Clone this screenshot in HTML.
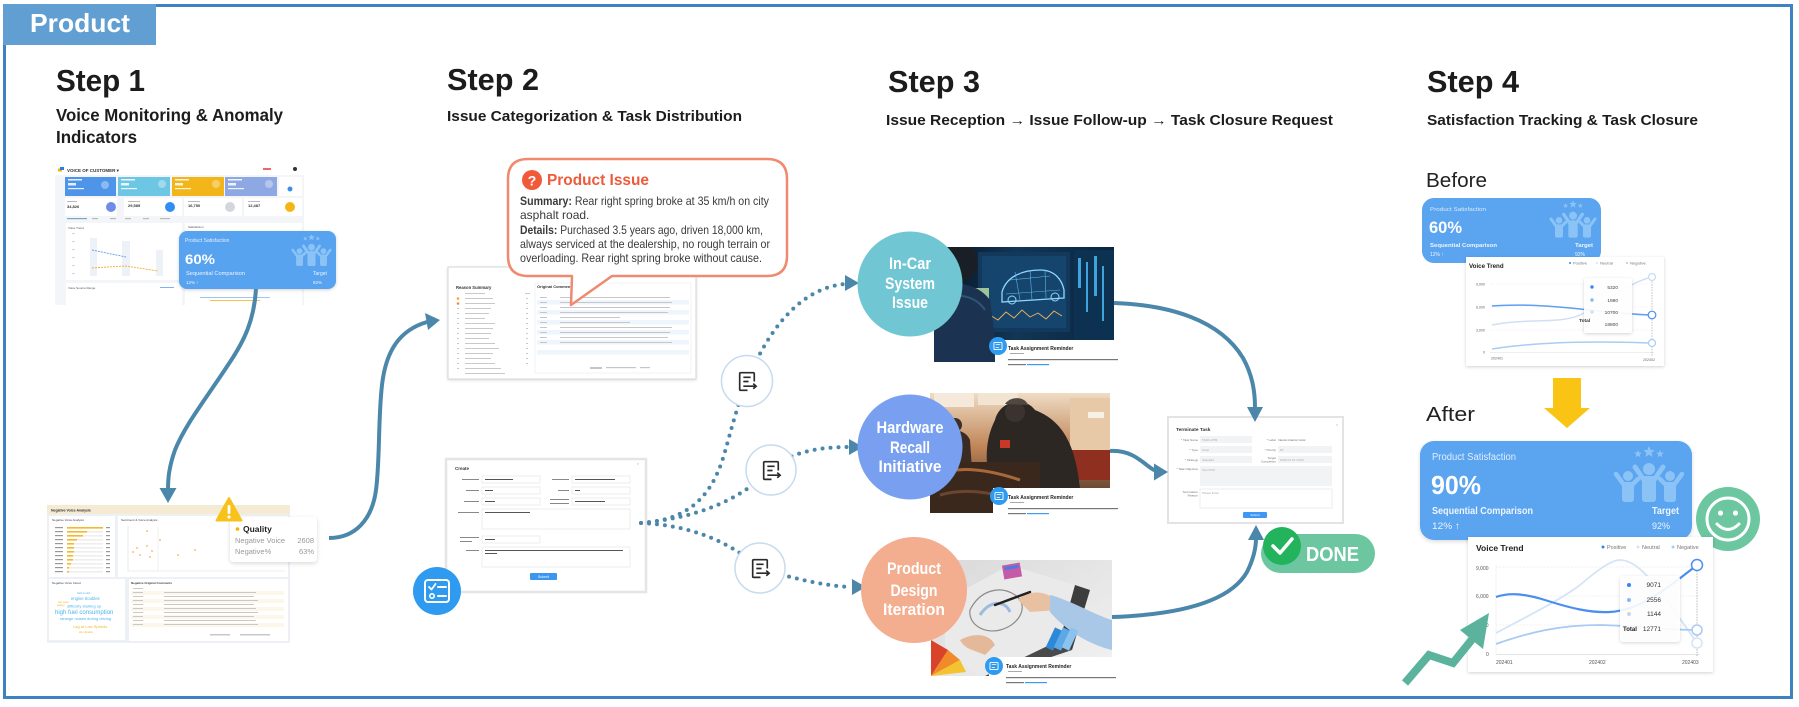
<!DOCTYPE html>
<html><head><meta charset="utf-8"><title>Product</title>
<style>
html,body{margin:0;padding:0;background:#fff}
body{width:1799px;height:707px;overflow:hidden}
svg{display:block}
text{font-family:"Liberation Sans",Arial,sans-serif}
</style></head><body>
<svg width="1799" height="707" viewBox="0 0 1799 707" xmlns="http://www.w3.org/2000/svg">
<defs>
<filter id="sh" x="-20%" y="-20%" width="140%" height="150%"><feDropShadow dx="0" dy="1" stdDeviation="1.6" flood-color="#000" flood-opacity="0.18"/></filter>
<filter id="sh2" x="-20%" y="-20%" width="140%" height="150%"><feDropShadow dx="0" dy="1.5" stdDeviation="2" flood-color="#000" flood-opacity="0.15"/></filter>
<linearGradient id="gcar" x1="0" y1="0" x2="1" y2="0"><stop offset="0" stop-color="#07121f"/><stop offset="0.45" stop-color="#123656"/><stop offset="1" stop-color="#0b2640"/></linearGradient>
<linearGradient id="ghw" x1="0" y1="0" x2="0" y2="1"><stop offset="0" stop-color="#efdcc4"/><stop offset="0.45" stop-color="#c08558"/><stop offset="1" stop-color="#3b281c"/></linearGradient>
<linearGradient id="gds" x1="0" y1="0" x2="1" y2="1"><stop offset="0" stop-color="#d9d9d9"/><stop offset="1" stop-color="#f2f2f2"/></linearGradient>
<path id="star" d="M0,-1 L0.2645,-0.364 L0.951,-0.309 L0.428,0.139 L0.588,0.809 L0,0.45 L-0.588,0.809 L-0.428,0.139 L-0.951,-0.309 L-0.2645,-0.364Z"/>
<symbol id="people" viewBox="0 0 72 56">
 <g fill="currentColor" stroke="currentColor">
 <use href="#star" transform="translate(25,8) scale(4)" stroke="none"/>
 <use href="#star" transform="translate(36,6) scale(6)" stroke="none"/>
 <use href="#star" transform="translate(47,8) scale(4)" stroke="none"/>
 <circle cx="36" cy="23" r="6" stroke="none"/>
 <rect x="29" y="30" width="14" height="26" rx="3" stroke="none"/>
 <path d="M31,34 L22,21 M41,34 L50,21" stroke-width="5" stroke-linecap="round" fill="none"/>
 <circle cx="15" cy="30" r="5" stroke="none"/>
 <rect x="9" y="36" width="12" height="20" rx="3" stroke="none"/>
 <path d="M11,39 L3,28 M19,39 L25,33" stroke-width="4.5" stroke-linecap="round" fill="none"/>
 <circle cx="57" cy="30" r="5" stroke="none"/>
 <rect x="51" y="36" width="12" height="20" rx="3" stroke="none"/>
 <path d="M61,39 L69,28 M53,39 L47,33" stroke-width="4.5" stroke-linecap="round" fill="none"/>
 </g>
</symbol>
<symbol id="doc" viewBox="0 0 24 24">
 <path d="M12,20.5 H5.5 Q4.5,20.5 4.5,19.5 V4.5 Q4.5,3.5 5.5,3.5 H17.5 Q18.5,3.5 18.5,4.5 V12" fill="none" stroke="#2a2a2a" stroke-width="1.6" stroke-linejoin="round"/>
 <path d="M8,8 H15 M8,12 H13 M8,16.5 H20" fill="none" stroke="#2a2a2a" stroke-width="1.6"/>
 <path d="M17.5,14 L20.3,16.5 L17.5,19" fill="none" stroke="#2a2a2a" stroke-width="1.6"/>
</symbol>
<symbol id="bicon" viewBox="0 0 20 20">
 <circle cx="10" cy="10" r="10" fill="#2f9bf0"/>
 <rect x="5.5" y="6" width="9" height="8" rx="1" fill="none" stroke="#fff" stroke-width="1"/>
 <path d="M7.5,8.5 H12.5 M7.5,11.5 H11" stroke="#fff" stroke-width="0.9"/>
</symbol>
<clipPath id="cpcar"><path d="M934,247 H1114 V340 H995 V362 H934 Z"/></clipPath>
<clipPath id="cphw"><path d="M930,393 H1110 V488 H993 V513 H930 Z"/></clipPath>
<clipPath id="cpds"><path d="M931,560 H1112 V657 H989 V676 H931 Z"/></clipPath>
</defs>

<!-- frame -->
<rect x="4.5" y="5.5" width="1787" height="692" fill="#fff" stroke="#3f82c2" stroke-width="3"/>
<rect x="3" y="4" width="153" height="41" fill="#619fd3"/>
<text x="30" y="32" font-size="26" font-weight="bold" fill="#fff" textLength="100" lengthAdjust="spacingAndGlyphs">Product</text>

<!-- headings -->
<g fill="#1c1c1c" font-weight="bold">
<text x="56" y="91" font-size="31" textLength="89" lengthAdjust="spacingAndGlyphs">Step 1</text>
<text x="56" y="121" font-size="17.5" textLength="227" lengthAdjust="spacingAndGlyphs">Voice Monitoring &amp; Anomaly</text>
<text x="56" y="143" font-size="17.5" textLength="81" lengthAdjust="spacingAndGlyphs">Indicators</text>
<text x="447" y="90" font-size="31" textLength="92" lengthAdjust="spacingAndGlyphs">Step 2</text>
<text x="447" y="121" font-size="14.5" textLength="295" lengthAdjust="spacingAndGlyphs">Issue Categorization &amp; Task Distribution</text>
<text x="888" y="92" font-size="31" textLength="92" lengthAdjust="spacingAndGlyphs">Step 3</text>
<text x="886" y="125" font-size="14.5" textLength="447" lengthAdjust="spacingAndGlyphs">Issue Reception → Issue Follow-up → Task Closure Request</text>
<text x="1427" y="92" font-size="31" textLength="92" lengthAdjust="spacingAndGlyphs">Step 4</text>
<text x="1427" y="125" font-size="14.5" textLength="271" lengthAdjust="spacingAndGlyphs">Satisfaction Tracking &amp; Task Closure</text>
</g>

<!-- ===== STEP 1 dashboard ===== -->
<g>
<rect x="55" y="166" width="249" height="139" fill="#f3f5f9"/>
<rect x="55" y="166" width="249" height="9" fill="#fff"/>
<rect x="58" y="168.5" width="4" height="3" fill="#f5b400"/><rect x="60" y="167" width="4" height="3" fill="#2f7de1"/>
<text x="67" y="172" font-size="4.5" font-weight="bold" fill="#333">VOICE OF CUSTOMER ▾</text>
<rect x="263" y="168" width="8" height="2" fill="#e66"/><circle cx="295" cy="169" r="2" fill="#333"/>
<rect x="65" y="177" width="51" height="19" fill="#4e95ea"/>
<rect x="118" y="177" width="52" height="19" fill="#6cc6e4"/>
<rect x="172" y="177" width="52" height="19" fill="#f2b61b"/>
<rect x="225" y="177" width="52" height="19" fill="#8ea8e3"/>
<rect x="279" y="177" width="23" height="19" fill="#fff"/>
<g fill="#fff" opacity="0.85">
<rect x="68" y="179" width="14" height="1.5"/><rect x="68" y="183" width="8" height="2.5"/><rect x="68" y="188" width="16" height="1.2"/>
<rect x="121" y="179" width="14" height="1.5"/><rect x="121" y="183" width="8" height="2.5"/><rect x="121" y="188" width="16" height="1.2"/>
<rect x="175" y="179" width="14" height="1.5"/><rect x="175" y="183" width="8" height="2.5"/><rect x="175" y="188" width="16" height="1.2"/>
<rect x="228" y="179" width="14" height="1.5"/><rect x="228" y="183" width="8" height="2.5"/><rect x="228" y="188" width="16" height="1.2"/>
</g>
<circle cx="105" cy="185" r="4" fill="#fff" opacity="0.35"/><circle cx="162" cy="184" r="4" fill="#fff" opacity="0.35"/><circle cx="216" cy="184" r="4" fill="#fff" opacity="0.35"/><circle cx="269" cy="184" r="4" fill="#fff" opacity="0.35"/>
<circle cx="290" cy="189" r="2.5" fill="#3d8ee8"/>
<rect x="65" y="198" width="52" height="18" fill="#fff"/><rect x="124" y="198" width="58" height="18" fill="#fff"/><rect x="184" y="198" width="58" height="18" fill="#fff"/><rect x="244" y="198" width="58" height="18" fill="#fff"/>
<circle cx="111" cy="207" r="5" fill="#6f8de6"/><circle cx="170" cy="207" r="5" fill="#2e8ff0"/><circle cx="230" cy="207" r="5" fill="#d3d6db"/><circle cx="290" cy="207" r="5" fill="#f5b615"/>
<g font-size="4" font-weight="bold" fill="#333"><text x="67" y="208">34,826</text><text x="128" y="207">29,589</text><text x="188" y="207">16,750</text><text x="248" y="207">12,487</text></g>
<g fill="#bbb"><rect x="67" y="201" width="10" height="1"/><rect x="128" y="201" width="12" height="1"/><rect x="188" y="201" width="12" height="1"/><rect x="248" y="201" width="12" height="1"/>
<rect x="67" y="218" width="20" height="1.2" fill="#7ab"/><rect x="92" y="218" width="6" height="1.2"/><rect x="110" y="218" width="6" height="1.2"/><rect x="125" y="218" width="6" height="1.2"/><rect x="143" y="218" width="6" height="1.2"/><rect x="160" y="218" width="10" height="1.2"/></g>
<rect x="66" y="223" width="116" height="57" fill="#fff"/>
<rect x="185" y="223" width="117" height="57" fill="#fff"/>
<text x="68" y="229" font-size="3" fill="#555">Voice Trend</text>
<rect x="90" y="238" width="7" height="38" fill="#edf1f8"/><rect x="122" y="241" width="8" height="35" fill="#edf1f8"/><rect x="156" y="250" width="7" height="26" fill="#edf1f8"/>
<path d="M92,250 L126,257" fill="none" stroke="#5d9cec" stroke-width="0.9" stroke-dasharray="2 1"/>
<path d="M92,268 L108,267 L126,266 L158,271" fill="none" stroke="#f2b02c" stroke-width="0.9" stroke-dasharray="2 1"/>
<g fill="#ccc"><rect x="72" y="233" width="3" height="0.8"/><rect x="72" y="241" width="3" height="0.8"/><rect x="72" y="249" width="3" height="0.8"/><rect x="72" y="257" width="3" height="0.8"/><rect x="72" y="265" width="3" height="0.8"/><rect x="72" y="273" width="3" height="0.8"/></g>
<rect x="66" y="283" width="116" height="22" fill="#fff"/><rect x="185" y="283" width="117" height="22" fill="#fff"/>
<text x="68" y="289" font-size="3" fill="#555">Voice Source Range</text>
<rect x="160" y="287" width="14" height="1" fill="#7ab4f0"/>
<rect x="200" y="297" width="70" height="1" fill="#9cc6f3"/><rect x="210" y="300" width="50" height="1" fill="#f2c24c"/>
<text x="188" y="228" font-size="3" fill="#555">Satisfaction</text>
</g>
<!-- step1 popup -->
<g filter="url(#sh)">
<rect x="179" y="231" width="157" height="58" rx="8" fill="#59a3f0"/>
</g>
<use href="#people" x="291" y="234" width="41" height="32" color="#8cc3f6"/>
<text x="185" y="242" font-size="5" fill="#e1eefc">Product Satisfaction</text>
<text x="185" y="264" font-size="14" font-weight="bold" fill="#fff" textLength="30" lengthAdjust="spacingAndGlyphs">60%</text>
<text x="186" y="275" font-size="5" fill="#eef5fd" textLength="59" lengthAdjust="spacingAndGlyphs">Sequential Comparison</text>
<text x="186" y="284" font-size="4.5" fill="#eef5fd">12% ↑</text>
<text x="313" y="275" font-size="5" fill="#eef5fd">Target</text>
<text x="313" y="284" font-size="4.5" fill="#eef5fd">92%</text>

<!-- step1 arrow down -->
<path d="M256,289 C254,320 245,340 228,365 C205,400 185,425 175,450 C169,467 168,478 168,490" fill="none" stroke="#4b87aa" stroke-width="4"/>
<polygon points="159.5,488 176.5,488 168,503" fill="#4b87aa"/>

<!-- Negative voice analysis screenshot -->
<g>
<rect x="47" y="505" width="243" height="138" fill="#edf0f5"/>
<rect x="47" y="505" width="243" height="9" fill="#f5ebd2"/>
<text x="51" y="511.5" font-size="3.5" font-weight="bold" fill="#333">Negative Voice Analysis</text>
<rect x="49" y="516" width="66" height="61" fill="#fff"/>
<text x="52" y="521" font-size="3" fill="#444">Negative Voice Analysis</text>
<g fill="#eee"><rect x="67" y="527" width="36" height="1.6"/><rect x="67" y="531" width="36" height="1.6"/><rect x="67" y="535" width="36" height="1.6"/><rect x="67" y="539" width="36" height="1.6"/><rect x="67" y="543" width="36" height="1.6"/><rect x="67" y="547" width="36" height="1.6"/><rect x="67" y="551" width="36" height="1.6"/><rect x="67" y="555" width="36" height="1.6"/><rect x="67" y="559" width="36" height="1.6"/><rect x="67" y="563" width="36" height="1.6"/><rect x="67" y="567" width="36" height="1.6"/><rect x="67" y="571" width="36" height="1.6"/></g>
<g fill="#f5b82e"><rect x="67" y="527" width="36" height="1.6"/><rect x="67" y="531" width="20" height="1.6"/><rect x="67" y="535" width="16" height="1.6"/><rect x="67" y="539" width="10" height="1.6"/><rect x="67" y="543" width="7" height="1.6"/><rect x="67" y="547" width="7" height="1.6"/><rect x="67" y="551" width="7" height="1.6"/><rect x="67" y="555" width="6" height="1.6"/><rect x="67" y="559" width="6" height="1.6"/><rect x="67" y="563" width="4" height="1.6"/><rect x="67" y="567" width="2" height="1.6"/><rect x="67" y="571" width="2" height="1.6"/></g>
<g fill="#999"><rect x="55" y="527" width="8" height="1.2"/><rect x="55" y="531" width="8" height="1.2"/><rect x="55" y="535" width="8" height="1.2"/><rect x="55" y="539" width="8" height="1.2"/><rect x="55" y="543" width="8" height="1.2"/><rect x="55" y="547" width="8" height="1.2"/><rect x="55" y="551" width="8" height="1.2"/><rect x="55" y="555" width="8" height="1.2"/><rect x="55" y="559" width="8" height="1.2"/><rect x="55" y="563" width="8" height="1.2"/><rect x="55" y="567" width="8" height="1.2"/><rect x="55" y="571" width="8" height="1.2"/>
<rect x="106" y="527" width="4" height="1.2"/><rect x="106" y="531" width="4" height="1.2"/><rect x="106" y="535" width="4" height="1.2"/><rect x="106" y="539" width="4" height="1.2"/><rect x="106" y="543" width="4" height="1.2"/><rect x="106" y="547" width="4" height="1.2"/><rect x="106" y="551" width="4" height="1.2"/><rect x="106" y="555" width="4" height="1.2"/><rect x="106" y="559" width="4" height="1.2"/><rect x="106" y="563" width="4" height="1.2"/><rect x="106" y="567" width="4" height="1.2"/><rect x="106" y="571" width="4" height="1.2"/></g>
<rect x="118" y="516" width="170" height="61" fill="#fff"/>
<text x="121" y="521" font-size="3" fill="#444">Sentiment &amp; Voice Analysis</text>
<path d="M128,526 V571 H285" fill="none" stroke="#ddd" stroke-width="0.6"/>
<path d="M158,526 V571" fill="none" stroke="#e6e6e6" stroke-width="0.6"/>
<g fill="#f6c46e"><circle cx="133" cy="552" r="1"/><circle cx="137" cy="548" r="1"/><circle cx="140" cy="555" r="1"/><circle cx="147" cy="546" r="1"/><circle cx="150" cy="557" r="1"/><circle cx="152" cy="551" r="1"/><circle cx="160" cy="540" r="1"/><circle cx="178" cy="555" r="1"/><circle cx="195" cy="550" r="1"/><circle cx="147" cy="531" r="1"/></g>
<rect x="49" y="579" width="76" height="61" fill="#fff"/>
<text x="52" y="584" font-size="3" fill="#444">Negative Voice Cloud</text>
<text x="77" y="594" font-size="2.5" fill="#4ab4ea">hard to start</text>
<text x="71" y="600" font-size="4.2" fill="#4ab4ea">engine troubles</text>
<text x="58" y="603" font-size="2.5" fill="#f5b82e">fuel smell</text>
<text x="57" y="606" font-size="2.5" fill="#f5b82e">jerking</text>
<text x="67" y="607.5" font-size="4" fill="#4ab4ea">difficulty starting up</text>
<text x="55" y="614" font-size="6" fill="#4ab4ea">high fuel consumption</text>
<text x="60" y="620" font-size="4" fill="#4ab4ea">strange noises during driving</text>
<text x="73" y="628" font-size="4" fill="#f5b82e">Lag at Low Speeds</text>
<text x="79" y="633" font-size="2.5" fill="#f5b82e">idle vibration</text>
<rect x="129" y="579" width="159" height="62" fill="#fff"/>
<text x="131" y="584" font-size="3" font-weight="bold" fill="#444">Negative Original Comments</text>
<g fill="#fdf7ea"><rect x="131" y="591" width="153" height="4"/><rect x="131" y="599" width="153" height="4"/><rect x="131" y="607" width="153" height="4"/><rect x="131" y="615" width="153" height="4"/><rect x="131" y="623" width="153" height="4"/></g>
<g fill="#c8c8c8"><rect x="133" y="588" width="10" height="1"/><rect x="133" y="592" width="10" height="1"/><rect x="133" y="596" width="10" height="1"/><rect x="133" y="600" width="10" height="1"/><rect x="133" y="604" width="10" height="1"/><rect x="133" y="608" width="10" height="1"/><rect x="133" y="612" width="10" height="1"/><rect x="133" y="616" width="10" height="1"/><rect x="133" y="620" width="10" height="1"/><rect x="133" y="624" width="10" height="1"/>
<rect x="164" y="592" width="92" height="1"/><rect x="164" y="596" width="90" height="1"/><rect x="164" y="600" width="94" height="1"/><rect x="164" y="604" width="90" height="1"/><rect x="164" y="608" width="92" height="1"/><rect x="164" y="612" width="94" height="1"/><rect x="164" y="616" width="90" height="1"/><rect x="164" y="620" width="92" height="1"/><rect x="164" y="624" width="94" height="1"/>
<rect x="210" y="634" width="20" height="1.5"/><rect x="240" y="634" width="30" height="1.5"/></g>
</g>
<!-- warning + quality tooltip -->
<g filter="url(#sh2)">
<rect x="230" y="517" width="87" height="45" rx="4" fill="#fff"/>
</g>
<circle cx="237.5" cy="529" r="1.8" fill="#f5b400"/>
<text x="243" y="532" font-size="8.5" font-weight="bold" fill="#222">Quality</text>
<text x="235" y="543" font-size="7.5" fill="#9a9a9a">Negative Voice</text>
<text x="314" y="543" font-size="7.5" fill="#9a9a9a" text-anchor="end">2608</text>
<text x="235" y="554" font-size="7.5" fill="#9a9a9a">Negative%</text>
<text x="314" y="554" font-size="7.5" fill="#9a9a9a" text-anchor="end">63%</text>
<path d="M229,498 L241.5,520.5 H216.5 Z" fill="#f7c21a" stroke="#f7c21a" stroke-width="2" stroke-linejoin="round"/>
<rect x="227.6" y="505" width="2.8" height="9" rx="1" fill="#fff"/><circle cx="229" cy="517" r="1.6" fill="#fff"/>

<!-- arrow step1 -> step2 -->
<path d="M329,538 C355,538 372,520 376,490 C380,460 378,420 382,385 C386,350 400,330 427,322" fill="none" stroke="#4b87aa" stroke-width="4"/>
<polygon points="425,313 440,320 428,330" fill="#4b87aa"/>

<!-- ===== STEP 2 ===== -->
<g filter="url(#sh)"><rect x="448" y="267" width="248" height="112" fill="#fff"/></g>
<rect x="448" y="267" width="248" height="112" fill="none" stroke="#d6d6d6" stroke-width="1"/>
<text x="456" y="289" font-size="4.2" font-weight="bold" fill="#333">Reason Summary</text>
<g fill="#c9c9c9">
<rect x="465" y="293" width="20" height="1"/><rect x="525" y="293" width="5" height="1"/>
<rect x="465" y="298" width="28" height="1"/><rect x="465" y="303" width="30" height="1"/><rect x="465" y="308" width="26" height="1"/><rect x="465" y="313" width="24" height="1"/><rect x="465" y="318" width="20" height="1"/><rect x="465" y="323" width="30" height="1"/><rect x="465" y="328" width="28" height="1"/><rect x="465" y="333" width="26" height="1"/><rect x="465" y="338" width="24" height="1"/><rect x="465" y="343" width="30" height="1"/><rect x="465" y="348" width="34" height="1"/><rect x="465" y="353" width="28" height="1"/><rect x="465" y="358" width="26" height="1"/><rect x="465" y="363" width="30" height="1"/><rect x="465" y="368" width="36" height="1"/><rect x="465" y="373" width="40" height="1"/>
<rect x="457" y="298" width="2" height="1"/><rect x="457" y="308" width="2" height="1"/><rect x="457" y="313" width="2" height="1"/><rect x="457" y="318" width="2" height="1"/><rect x="457" y="323" width="2" height="1"/><rect x="457" y="328" width="2" height="1"/><rect x="457" y="333" width="2" height="1"/><rect x="457" y="338" width="2" height="1"/><rect x="457" y="343" width="2" height="1"/><rect x="457" y="348" width="2" height="1"/><rect x="457" y="353" width="2" height="1"/><rect x="457" y="358" width="2" height="1"/><rect x="457" y="363" width="2" height="1"/><rect x="457" y="368" width="2" height="1"/>
<rect x="526" y="298" width="2" height="1"/><rect x="526" y="303" width="2" height="1"/><rect x="526" y="308" width="2" height="1"/><rect x="526" y="313" width="2" height="1"/><rect x="526" y="318" width="2" height="1"/><rect x="526" y="323" width="2" height="1"/><rect x="526" y="328" width="2" height="1"/><rect x="526" y="333" width="2" height="1"/><rect x="526" y="338" width="2" height="1"/><rect x="526" y="343" width="2" height="1"/><rect x="526" y="348" width="2" height="1"/><rect x="526" y="353" width="2" height="1"/><rect x="526" y="358" width="2" height="1"/><rect x="526" y="363" width="2" height="1"/></g>
<circle cx="458" cy="298.5" r="1.3" fill="#f5a623"/><circle cx="458" cy="303.5" r="1.3" fill="#f08a3a"/>
<rect x="535" y="283" width="156" height="90" fill="none" stroke="#eef0f3" stroke-width="0.8"/>
<text x="537" y="288" font-size="4" font-weight="bold" fill="#333">Original Comments</text>
<g fill="#eef5fd"><rect x="537" y="300" width="152" height="4.5"/><rect x="537" y="310" width="152" height="4.5"/><rect x="537" y="320" width="152" height="4.5"/><rect x="537" y="330" width="152" height="4.5"/><rect x="537" y="340" width="152" height="4.5"/><rect x="537" y="350" width="152" height="4.5"/></g>
<g fill="#c6c6c6">
<rect x="540" y="297" width="7" height="1"/><rect x="560" y="297" width="110" height="1"/>
<rect x="540" y="302" width="7" height="1"/><rect x="560" y="302" width="112" height="1"/>
<rect x="540" y="307" width="7" height="1"/><rect x="560" y="307" width="110" height="1"/>
<rect x="540" y="312" width="7" height="1"/><rect x="560" y="312" width="108" height="1"/>
<rect x="540" y="317" width="7" height="1"/><rect x="560" y="317" width="60" height="1"/>
<rect x="540" y="322" width="7" height="1"/><rect x="560" y="322" width="70" height="1"/>
<rect x="540" y="327" width="7" height="1"/><rect x="560" y="327" width="112" height="1"/>
<rect x="540" y="332" width="7" height="1"/><rect x="560" y="332" width="110" height="1"/>
<rect x="540" y="337" width="7" height="1"/><rect x="560" y="337" width="108" height="1"/>
<rect x="540" y="342" width="7" height="1"/><rect x="560" y="342" width="112" height="1"/>
<rect x="590" y="367" width="12" height="2"/><rect x="606" y="367" width="30" height="1.2"/><rect x="640" y="367" width="10" height="1.2"/></g>

<!-- Product issue bubble -->
<path d="M528,159 H767 Q787,159 787,179 V256 Q787,276 767,276 H612 L571,305 L572,276 H528 Q508,276 508,256 V179 Q508,159 528,159 Z" fill="#fff" stroke="#ef8a70" stroke-width="2.5" stroke-linejoin="round"/>
<circle cx="532" cy="180" r="10" fill="#f05a3a"/>
<text x="532" y="185.5" font-size="14" font-weight="bold" fill="#fff" text-anchor="middle">?</text>
<text x="547" y="185" font-size="15.5" font-weight="bold" fill="#ee5a3a" textLength="102" lengthAdjust="spacingAndGlyphs">Product Issue</text>
<g font-size="12" fill="#3a3a3a">
<text x="520" y="205" textLength="249" lengthAdjust="spacingAndGlyphs"><tspan font-weight="bold">Summary:</tspan> Rear right spring broke at 35 km/h on city</text>
<text x="520" y="219">asphalt road.</text>
<text x="520" y="234" textLength="243" lengthAdjust="spacingAndGlyphs"><tspan font-weight="bold">Details:</tspan> Purchased 3.5 years ago, driven 18,000 km,</text>
<text x="520" y="248" textLength="250" lengthAdjust="spacingAndGlyphs">always serviced at the dealership, no rough terrain or</text>
<text x="520" y="262" textLength="242" lengthAdjust="spacingAndGlyphs">overloading. Rear right spring broke without cause.</text>
</g>

<!-- create form -->
<rect x="446" y="459" width="200" height="133" fill="#fff" stroke="#e4e5e7" stroke-width="2.5"/>
<text x="455" y="470" font-size="4.5" font-weight="bold" fill="#333">Create</text>
<text x="637" y="465" font-size="4" fill="#aaa">×</text>
<g fill="#fff" stroke="#e2e2e2" stroke-width="0.6">
<rect x="482" y="476" width="58" height="7"/><rect x="572" y="476" width="58" height="7"/>
<rect x="482" y="487" width="58" height="7"/><rect x="572" y="487" width="58" height="7"/>
<rect x="482" y="498" width="58" height="7"/><rect x="572" y="498" width="58" height="7"/>
<rect x="482" y="509" width="148" height="20"/>
<rect x="482" y="536" width="58" height="7"/>
<rect x="482" y="547" width="148" height="20"/>
</g>
<g fill="#888"><rect x="462" y="479" width="17" height="1"/><rect x="552" y="479" width="17" height="1"/><rect x="466" y="490" width="13" height="1"/><rect x="558" y="490" width="11" height="1"/><rect x="464" y="501" width="15" height="1"/><rect x="550" y="499" width="19" height="1"/><rect x="550" y="503" width="19" height="1"/><rect x="458" y="512" width="21" height="1"/><rect x="460" y="537" width="19" height="1"/><rect x="460" y="541" width="12" height="1"/><rect x="466" y="550" width="13" height="1"/></g>
<g fill="#555"><rect x="485" y="479" width="28" height="1"/><rect x="575" y="479" width="40" height="1"/><rect x="485" y="490" width="8" height="1"/><rect x="575" y="490" width="5" height="1"/><rect x="485" y="501" width="10" height="1"/><rect x="575" y="501" width="30" height="1"/><rect x="485" y="512" width="45" height="1"/><rect x="485" y="539" width="10" height="1"/><rect x="485" y="550" width="138" height="1"/><rect x="485" y="553" width="12" height="1"/></g>
<rect x="530" y="573" width="27" height="7" rx="1" fill="#3d95f2"/>
<text x="543.5" y="578" font-size="3.5" fill="#fff" text-anchor="middle">Submit</text>
<!-- checklist icon -->
<circle cx="437" cy="591" r="24" fill="#2e9bf0"/>
<rect x="425" y="580" width="24" height="22" rx="3" fill="none" stroke="#fff" stroke-width="2"/>
<path d="M429,587 L431.5,589.5 L435.5,584" fill="none" stroke="#fff" stroke-width="1.8" stroke-linecap="round" stroke-linejoin="round"/>
<circle cx="432" cy="596" r="2.2" fill="none" stroke="#fff" stroke-width="1.6"/>
<path d="M438,587 H446 M438,596 H446" fill="none" stroke="#fff" stroke-width="2" stroke-linecap="round"/>

<!-- dotted connectors -->
<g fill="none" stroke="#4b87aa" stroke-width="4" stroke-linecap="round" stroke-dasharray="0 8">
<path d="M641,523 C690,520 712,495 724,455 C734,420 740,395 752,370 C770,330 800,288 845,284"/>
<path d="M641,523 C690,518 735,505 771,469 C790,452 820,447 848,447"/>
<path d="M641,523 C685,525 725,538 760,568 C790,578 825,586 851,587"/>
</g>
<polygon points="845,275 859,283 845,291" fill="#4b87aa"/>
<polygon points="849,439 863,447 849,455" fill="#4b87aa"/>
<polygon points="852,579 866,587 852,595" fill="#4b87aa"/>
<g fill="#fff" stroke="#c6dbee" stroke-width="1.5">
<circle cx="747" cy="381" r="25.5"/><circle cx="771" cy="470" r="25"/><circle cx="760" cy="568" r="25"/>
</g>
<use href="#doc" x="735" y="369" width="25" height="25"/>
<use href="#doc" x="759" y="458" width="25" height="25"/>
<use href="#doc" x="748" y="556" width="25" height="25"/>

<!-- ===== STEP 3 ===== -->
<g clip-path="url(#cpcar)">
<rect x="934" y="247" width="180" height="115" fill="url(#gcar)"/>
<rect x="978" y="252" width="92" height="80" fill="#12385c"/>
<rect x="982" y="256" width="84" height="72" fill="#174a73" opacity="0.7"/>
<path d="M1002,292 C1006,278 1020,270 1040,270 C1055,270 1062,280 1064,290 L1064,298 L1002,302 Z" fill="none" stroke="#8fd6ff" stroke-width="1.3"/>
<path d="M1010,280 L1050,276 M1006,294 L1060,290 M1015,272 L1020,300 M1030,270 L1032,300 M1045,270 L1046,298" fill="none" stroke="#5fb6e8" stroke-width="0.6"/>
<circle cx="1012" cy="300" r="4" fill="none" stroke="#8fd6ff" stroke-width="1"/><circle cx="1055" cy="297" r="4" fill="none" stroke="#8fd6ff" stroke-width="1"/>
<path d="M982,322 L990,315 L998,320 L1006,312 L1014,318 L1022,310 L1030,317 L1038,313 L1046,319 L1054,311 L1062,316" fill="none" stroke="#f2b45a" stroke-width="0.9"/>
<rect x="1074" y="250" width="40" height="90" fill="#0d3150"/>
<g fill="#3fa3dc"><rect x="1078" y="258" width="3" height="30"/><rect x="1086" y="262" width="2" height="50"/><rect x="1094" y="256" width="3" height="40"/><rect x="1102" y="266" width="2" height="55"/></g>
<rect x="975" y="288" width="14" height="18" fill="#b6dba4" opacity="0.85"/>
<circle cx="958" cy="262" r="20" fill="#1a1f26"/>
<path d="M934,290 C945,280 975,280 990,300 L998,362 H934 Z" fill="#1b3350"/>
<path d="M940,300 C955,292 975,295 985,310" stroke="#2e5478" stroke-width="2" fill="none"/>
</g>
<use href="#bicon" x="989" y="337" width="18" height="18"/>
<text x="1008" y="350" font-size="5" font-weight="bold" fill="#222">Task Assignment Reminder</text>
<rect x="1010" y="353" width="14" height="1" fill="#aaa"/>
<rect x="1008" y="359" width="110" height="1.2" fill="#777"/>
<rect x="1008" y="364" width="18" height="1.2" fill="#777"/><rect x="1027" y="364" width="22" height="1.2" fill="#3b9cf0"/>

<g clip-path="url(#cphw)">
<rect x="930" y="393" width="180" height="120" fill="url(#ghw)"/>
<rect x="934" y="393" width="40" height="14" fill="#f4e9da"/>
<rect x="978" y="393" width="40" height="12" fill="#f1e4d1"/>
<rect x="1070" y="398" width="40" height="70" fill="#e7c9a8"/>
<rect x="1088" y="412" width="16" height="6" fill="#f6f0e8"/>
<rect x="1058" y="450" width="52" height="30" fill="#8e2f1f"/>
<path d="M995,420 C1000,400 1025,396 1035,410 C1060,420 1075,440 1080,488 L990,488 C985,460 985,440 995,420 Z" fill="#2d2724"/>
<circle cx="1015" cy="412" r="10" fill="#3a3330"/>
<path d="M1005,404 C1010,396 1025,396 1028,405 Z" fill="#514842"/>
<circle cx="955" cy="425" r="7" fill="#3b2f28"/>
<path d="M942,435 C948,428 965,428 970,440 L972,470 H940 Z" fill="#3a2c24"/>
<rect x="930" y="462" width="110" height="55" fill="#3a281d"/>
<path d="M935,475 C960,465 990,470 1020,480" stroke="#a8693a" stroke-width="3" fill="none"/>
<path d="M940,495 C965,488 990,492 1015,500" stroke="#6b4530" stroke-width="3" fill="none"/>
<rect x="1000" y="440" width="10" height="8" fill="#c63a25"/>
</g>
<use href="#bicon" x="990" y="487" width="18" height="18"/>
<text x="1008" y="499" font-size="5" font-weight="bold" fill="#222">Task Assignment Reminder</text>
<rect x="1010" y="502" width="14" height="1" fill="#aaa"/>
<rect x="1008" y="508" width="110" height="1.2" fill="#777"/>
<rect x="1008" y="513" width="18" height="1.2" fill="#777"/><rect x="1027" y="513" width="22" height="1.2" fill="#3b9cf0"/>

<g clip-path="url(#cpds)">
<rect x="931" y="560" width="181" height="116" fill="url(#gds)"/>
<path d="M945,600 L1010,565 L1075,585 L1060,640 L985,676 L945,660 Z" fill="#eaeaea"/>
<path d="M1060,640 L1075,585 L1090,590 L1072,650 Z" fill="#3d3d3d"/>
<path d="M985,676 L1060,640 L1072,650 L995,676 Z" fill="#4a4a4a"/>
<path d="M970,610 C980,590 1000,585 1015,595 C1030,605 1020,625 1000,630 C985,634 968,625 970,610 Z" fill="none" stroke="#8a8a8a" stroke-width="1.2"/>
<path d="M980,615 C990,600 1005,600 1010,612" fill="none" stroke="#7aa6d8" stroke-width="3" opacity="0.7"/>
<rect x="1003" y="564" width="18" height="14" fill="#c55aa8" transform="rotate(-10 1012 571)"/>
<rect x="1005" y="566" width="14" height="3" fill="#4a7be0" transform="rotate(-10 1012 571)"/>
<path d="M1018,600 C1025,592 1040,590 1050,596 L1060,610 L1030,612 Z" fill="#e8c1a2"/>
<path d="M995,605 L1030,592" fill="none" stroke="#222" stroke-width="2.5" stroke-linecap="round"/>
<path d="M1050,595 C1070,600 1095,615 1112,620 L1112,650 C1090,645 1065,630 1050,612 Z" fill="#a9c8e8"/>
<path d="M960,640 C975,632 990,634 995,645 L985,655 C975,650 965,650 960,640 Z" fill="#e3b999"/>
<rect x="1050" y="628" width="8" height="22" fill="#2d88d8" transform="rotate(25 1054 639)"/>
<rect x="1058" y="628" width="8" height="22" fill="#5aa8e6" transform="rotate(25 1062 639)"/>
<rect x="1066" y="628" width="8" height="22" fill="#8bc3ee" transform="rotate(25 1070 639)"/>
<path d="M931,676 L931,640 L948,650 Z" fill="#d8432a"/>
<path d="M931,676 L948,650 L960,660 Z" fill="#f08a2a"/>
<path d="M931,676 L960,660 L966,672 Z" fill="#f4c430"/>
</g>
<use href="#bicon" x="985" y="657" width="18" height="18"/>
<text x="1006" y="668" font-size="5" font-weight="bold" fill="#222">Task Assignment Reminder</text>
<rect x="1008" y="671" width="14" height="1" fill="#aaa"/>
<rect x="1006" y="677" width="110" height="1.2" fill="#777"/>
<rect x="1006" y="682" width="18" height="1.2" fill="#777"/><rect x="1025" y="682" width="22" height="1.2" fill="#3b9cf0"/>

<circle cx="910" cy="284" r="52.5" fill="#70c6d2"/>
<circle cx="910" cy="447" r="52.5" fill="#789ff0"/>
<circle cx="914" cy="590" r="53" fill="#f3ad8f"/>
<g fill="#fff" font-weight="bold" font-size="16.5" text-anchor="middle">
<text x="910" y="269" textLength="42" lengthAdjust="spacingAndGlyphs">In-Car</text>
<text x="910" y="289" textLength="50" lengthAdjust="spacingAndGlyphs">System</text>
<text x="910" y="308" textLength="36" lengthAdjust="spacingAndGlyphs">Issue</text>
<text x="910" y="433" textLength="67" lengthAdjust="spacingAndGlyphs">Hardware</text>
<text x="910" y="453" textLength="40" lengthAdjust="spacingAndGlyphs">Recall</text>
<text x="910" y="472" textLength="63" lengthAdjust="spacingAndGlyphs">Initiative</text>
<text x="914" y="574" textLength="54" lengthAdjust="spacingAndGlyphs">Product</text>
<text x="914" y="596" textLength="47" lengthAdjust="spacingAndGlyphs">Design</text>
<text x="914" y="615" textLength="62" lengthAdjust="spacingAndGlyphs">Iteration</text>
</g>

<!-- terminate task form -->
<rect x="1168" y="417" width="175" height="106" fill="#fff" stroke="#e2e3e5" stroke-width="2"/>
<text x="1176" y="431" font-size="4.8" font-weight="bold" fill="#333">Terminate Task</text>
<text x="1336" y="426" font-size="4" fill="#aaa">×</text>
<g font-size="3" fill="#777" text-anchor="end">
<text x="1198" y="441">* Task Name</text><text x="1276" y="441">* Label</text>
<text x="1198" y="451">* Type</text><text x="1276" y="451">* Priority</text>
<text x="1198" y="461">* Strategy</text><text x="1276" y="459">Target</text><text x="1276" y="462.5">Completion</text>
<text x="1198" y="470">* Task Objective</text>
<text x="1198" y="493">Termination</text><text x="1198" y="496.5">Reason</text>
</g>
<g fill="#f2f3f5"><rect x="1200" y="436" width="52" height="7"/><rect x="1200" y="446" width="52" height="7"/><rect x="1278" y="446" width="54" height="7"/><rect x="1200" y="456" width="52" height="7"/><rect x="1278" y="456" width="54" height="7"/><rect x="1200" y="466" width="132" height="20"/></g>
<rect x="1200" y="489" width="132" height="19" fill="#fff" stroke="#e3e3e3" stroke-width="0.6"/>
<g font-size="3" fill="#aaa"><text x="1202" y="441">TASK-2783</text><text x="1278" y="441" fill="#666">Interior-Interior Color</text><text x="1202" y="451">Issue</text><text x="1280" y="451">P1</text><text x="1202" y="461">Standard</text><text x="1280" y="461">2025-07-15 10:00</text><text x="1202" y="471">Test 0702</text><text x="1202" y="494">Please Enter</text></g>
<rect x="1243" y="512" width="24" height="6" rx="1" fill="#3f97f5"/>
<text x="1255" y="516.2" font-size="3" fill="#fff" text-anchor="middle">Submit</text>

<!-- step3 solid arrows -->
<g fill="none" stroke="#4b87aa" stroke-width="4">
<path d="M1114,303 C1170,305 1220,320 1243,358 C1253,376 1255,393 1255,408"/>
<path d="M1110,451 C1128,450 1138,458 1148,466 C1152,469 1155,471 1157,471"/>
<path d="M1112,617 C1170,615 1228,605 1247,572 C1254,558 1256,548 1256,538"/>
</g>
<polygon points="1247,407 1263,407 1255,422" fill="#4b87aa"/>
<polygon points="1154,463.5 1168,472 1154,480.5" fill="#4b87aa"/>
<polygon points="1248,540 1264,540 1256,525" fill="#4b87aa"/>

<!-- DONE badge -->
<rect x="1261" y="534" width="114" height="39" rx="19.5" fill="#6cc7a0"/>
<circle cx="1282" cy="546" r="19" fill="#22b35c"/>
<path d="M1273,546 L1280,553 L1292,539" fill="none" stroke="#fff" stroke-width="3.5" stroke-linecap="round" stroke-linejoin="round"/>
<text x="1306" y="561" font-size="20" font-weight="bold" fill="#fff" textLength="53" lengthAdjust="spacingAndGlyphs">DONE</text>

<!-- ===== STEP 4 ===== -->
<text x="1426" y="187" font-size="20" fill="#222" textLength="61" lengthAdjust="spacingAndGlyphs">Before</text>
<rect x="1422" y="198" width="179" height="65" rx="12" fill="#5aa4f0"/>
<use href="#people" x="1549" y="200" width="48" height="38" color="#8cc3f6"/>
<text x="1430" y="211" font-size="5.5" fill="#dbeafc" textLength="56" lengthAdjust="spacingAndGlyphs">Product Satisfaction</text>
<text x="1429" y="233" font-size="17" font-weight="bold" fill="#fff" textLength="33" lengthAdjust="spacingAndGlyphs">60%</text>
<text x="1430" y="247" font-size="5.5" font-weight="bold" fill="#eef5fd" textLength="67" lengthAdjust="spacingAndGlyphs">Sequential Comparison</text>
<text x="1430" y="256" font-size="5" fill="#eef5fd">12% ↑</text>
<text x="1575" y="247" font-size="5.5" font-weight="bold" fill="#eef5fd" textLength="18" lengthAdjust="spacingAndGlyphs">Target</text>
<text x="1575" y="256" font-size="5" fill="#eef5fd">92%</text>
<g filter="url(#sh)"><rect x="1466" y="257" width="198" height="109" fill="#fff"/></g>
<text x="1469" y="268" font-size="6.2" font-weight="bold" fill="#222">Voice Trend</text>
<g font-size="4" fill="#777"><circle cx="1570" cy="263" r="1" fill="#3a83f0"/><text x="1573" y="264.5">Positive</text><circle cx="1597" cy="263" r="1" fill="#d3e3f7"/><text x="1600" y="264.5">Neutral</text><circle cx="1627" cy="263" r="1" fill="#aacdf5"/><text x="1630" y="264.5">Negative</text></g>
<g fill="none" stroke="#eeeeee" stroke-width="0.6" stroke-dasharray="2 1"><path d="M1490,284 H1654"/><path d="M1490,307 H1654"/><path d="M1490,330 H1654"/></g>
<path d="M1490,352.5 H1654" fill="none" stroke="#ddd" stroke-width="0.6"/>
<g font-size="3.6" fill="#666"><text x="1476" y="285.5">9,000</text><text x="1476" y="308.5">6,000</text><text x="1476" y="331.5">3,000</text><text x="1483" y="353.5">0</text><text x="1491" y="359.5">202401</text><text x="1643" y="361">202402</text></g>
<g fill="none" stroke-width="1.5">
<path d="M1492,325 C1530,318 1560,324 1580,315 C1610,300 1630,282 1652,277" stroke="#cfe0f6"/>
<path d="M1492,306 C1530,303 1570,308 1600,311 C1620,313 1640,315 1652,315" stroke="#5d9ff0"/>
<path d="M1492,349 C1530,343 1570,342 1600,342 C1630,342 1645,343 1652,343" stroke="#a9ccf4"/>
</g>
<path d="M1652,276 V356" fill="none" stroke="#999" stroke-width="0.6" stroke-dasharray="1.5 1.2"/>
<g filter="url(#sh)"><rect x="1584" y="278" width="48" height="55" rx="2" fill="#fff" opacity="0.93"/></g>
<circle cx="1592" cy="287" r="1.7" fill="#3a83f0"/><circle cx="1592" cy="300" r="1.7" fill="#8ab8f4"/><circle cx="1592" cy="312" r="1.7" fill="#cfe0f0"/>
<g font-size="4.8" fill="#444" text-anchor="end"><text x="1618" y="289">5320</text><text x="1618" y="302">1980</text><text x="1618" y="314">10700</text><text x="1618" y="326">18800</text></g>
<text x="1579" y="322" font-size="4.8" font-weight="bold" fill="#333">Total</text>
<g fill="#fff" stroke-width="1.2"><circle cx="1652" cy="277" r="3.5" stroke="#c9dcf3"/><circle cx="1652" cy="315" r="3.8" stroke="#4a8ef0"/><circle cx="1652" cy="343" r="3.5" stroke="#a9ccf4"/></g>

<polygon points="1553,378 1581,378 1581,408 1590,408 1567,428 1544,408 1553,408" fill="#f9c413"/>

<text x="1426" y="421" font-size="20" fill="#222" textLength="49" lengthAdjust="spacingAndGlyphs">After</text>
<g filter="url(#sh2)"><rect x="1420" y="441" width="272" height="99" rx="14" fill="#5aa4f0"/></g>
<use href="#people" x="1613" y="446" width="72" height="56" color="#8cc3f6"/>
<text x="1432" y="460" font-size="10" fill="#e1eefc" textLength="84" lengthAdjust="spacingAndGlyphs">Product Satisfaction</text>
<text x="1431" y="494" font-size="26" font-weight="bold" fill="#fff" textLength="50" lengthAdjust="spacingAndGlyphs">90%</text>
<text x="1432" y="514" font-size="10.5" font-weight="bold" fill="#eef5fd" textLength="101" lengthAdjust="spacingAndGlyphs">Sequential Comparison</text>
<text x="1432" y="529" font-size="9.5" fill="#eef5fd" textLength="28" lengthAdjust="spacingAndGlyphs">12% ↑</text>
<text x="1652" y="514" font-size="10.5" font-weight="bold" fill="#eef5fd" textLength="27" lengthAdjust="spacingAndGlyphs">Target</text>
<text x="1652" y="529" font-size="9.5" fill="#eef5fd" textLength="18" lengthAdjust="spacingAndGlyphs">92%</text>

<circle cx="1728" cy="519" r="32" fill="#6cc7a0"/>
<circle cx="1728" cy="519" r="21" fill="none" stroke="#fff" stroke-width="3"/>
<circle cx="1720.5" cy="513" r="2.6" fill="#fff"/><circle cx="1735.5" cy="513" r="2.6" fill="#fff"/>
<path d="M1717,524 Q1728,535 1739,524" fill="none" stroke="#fff" stroke-width="3" stroke-linecap="round"/>

<g filter="url(#sh)"><rect x="1468" y="537" width="245" height="135" fill="#fff"/></g>
<text x="1476" y="551" font-size="8.5" font-weight="bold" fill="#222">Voice Trend</text>
<g font-size="5.5" fill="#777"><circle cx="1603" cy="547" r="1.5" fill="#3a83f0"/><text x="1607" y="549">Positive</text><circle cx="1638" cy="547" r="1.5" fill="#d3e3f7"/><text x="1642" y="549">Neutral</text><circle cx="1673" cy="547" r="1.5" fill="#aacdf5"/><text x="1677" y="549">Negative</text></g>
<g fill="none" stroke="#eeeeee" stroke-width="0.7" stroke-dasharray="2 1"><path d="M1496,567 H1699"/><path d="M1496,596 H1699"/><path d="M1496,625 H1699"/></g>
<path d="M1496,654.5 H1699" fill="none" stroke="#ddd" stroke-width="0.7"/>
<path d="M1496,565 V654" fill="none" stroke="#eee" stroke-width="0.7"/>
<g font-size="5" fill="#555"><text x="1476" y="570">9,000</text><text x="1476" y="598">6,000</text><text x="1476" y="627">3,000</text><text x="1486" y="656">0</text><text x="1496" y="664">202401</text><text x="1589" y="664">202402</text><text x="1682" y="664">202403</text></g>
<g fill="none">
<path d="M1496,633 C1530,615 1560,600 1580,585 C1600,568 1612,560 1620,560 C1640,560 1660,590 1697,643" stroke="#d5e4f7" stroke-width="1.8"/>
<path d="M1496,644 C1530,632 1560,625 1600,625 C1640,626 1670,630 1697,630" stroke="#a6caf4" stroke-width="1.8"/>
<path d="M1496,597 C1510,592 1525,594 1545,600 C1570,608 1590,613 1610,612 C1640,610 1665,590 1697,565" stroke="#4a8ef0" stroke-width="2.2"/>
</g>
<path d="M1697,560 V656" fill="none" stroke="#999" stroke-width="0.7" stroke-dasharray="1.5 1.2"/>
<g filter="url(#sh)"><rect x="1620" y="576" width="60" height="66" rx="3" fill="#fff" opacity="0.9"/></g>
<circle cx="1629" cy="585" r="2" fill="#3a83f0"/><circle cx="1629" cy="600" r="2" fill="#8ab8f4"/><circle cx="1629" cy="614" r="2" fill="#c8d8e8"/>
<g font-size="6.5" fill="#333" text-anchor="end"><text x="1661" y="587">9071</text><text x="1661" y="602">2556</text><text x="1661" y="616">1144</text><text x="1661" y="631">12771</text></g>
<text x="1623" y="631" font-size="6" font-weight="bold" fill="#222">Total</text>
<g fill="#fff" stroke-width="1.5"><circle cx="1697" cy="565" r="5.5" stroke="#4a8ef0"/><circle cx="1697" cy="630" r="5" stroke="#a6caf4"/><circle cx="1697" cy="643" r="5" stroke="#d5e4f7"/></g>

<!-- green trend arrow -->
<polyline points="1405,683 1429,655 1453,663 1474,637" fill="none" stroke="#5bb39e" stroke-width="8" stroke-linejoin="miter"/>
<polygon points="1489,613 1460,630 1483,649" fill="#5bb39e"/>
</svg>
</body></html>
